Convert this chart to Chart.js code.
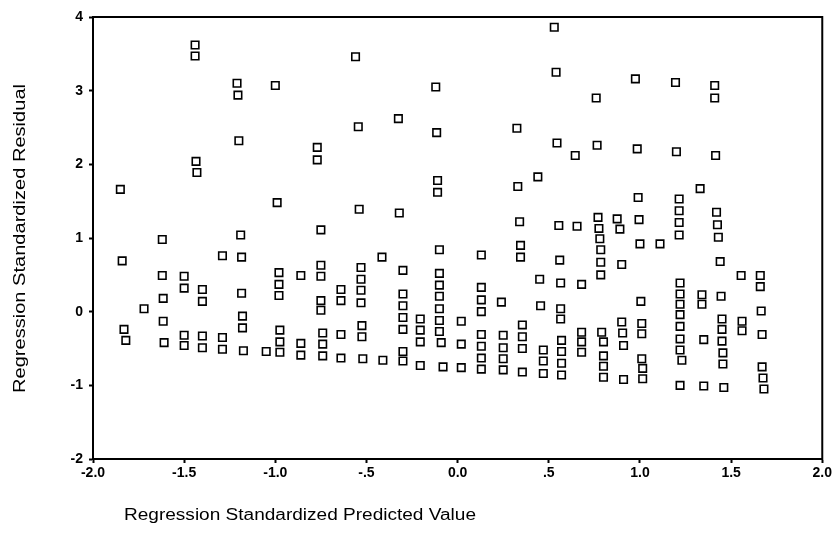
<!DOCTYPE html>
<html>
<head>
<meta charset="utf-8">
<script src="https://cdn.jsdelivr.net/npm/chart.js@4/dist/chart.umd.min.js"></script>
<style>
  html, body { margin: 0; padding: 0; background: #ffffff; }
  #wrap { width: 834px; height: 535px; position: relative; }
</style>
</head>
<body>
<div id="wrap"><canvas id="c" width="834" height="535"></canvas></div>
<script>
const xTitle = "Regression Standardized Predicted Value";
const yTitle = "Regression Standardized Residual";

const xTickValues = [-2, -1.5, -1, -0.5, 0, 0.5, 1, 1.5, 2];
const xTickLabels = ["-2.0", "-1.5", "-1.0", "-.5", "0.0", ".5", "1.0", "1.5", "2.0"];
const yTickValues = [-2, -1, 0, 1, 2, 3, 4];
const yTickLabels = ["-2", "-1", "0", "1", "2", "3", "4"];

const predictedValues = [
  -1.85, -1.84, -1.83, -1.82,
  -1.72,
  -1.62, -1.62, -1.615, -1.615, -1.61,
  -1.50, -1.50, -1.50, -1.50,
  -1.44, -1.44, -1.435, -1.43,
  -1.40, -1.40, -1.40, -1.40,
  -1.29, -1.29, -1.29,
  -1.21, -1.205, -1.20, -1.19, -1.185, -1.185, -1.18, -1.18, -1.175,
  -1.05,
  -1.00, -0.99, -0.98, -0.98, -0.98, -0.975, -0.975, -0.975,
  -0.86, -0.86, -0.86,
  -0.77, -0.77, -0.75, -0.75, -0.75, -0.75, -0.75, -0.74, -0.74, -0.74,
  -0.64, -0.64, -0.64, -0.64,
  -0.56, -0.545, -0.54, -0.53, -0.53, -0.53, -0.53, -0.525, -0.525, -0.52,
  -0.415, -0.41,
  -0.325, -0.32,
  -0.30, -0.30, -0.30, -0.30, -0.30, -0.30, -0.30,
  -0.205, -0.205, -0.205, -0.205,
  -0.12, -0.115, -0.11, -0.11, -0.10, -0.10, -0.10, -0.10, -0.10, -0.10, -0.10, -0.09, -0.08,
  0.02, 0.02, 0.02,
  0.13, 0.13, 0.13, 0.13, 0.13, 0.13, 0.13, 0.13,
  0.24, 0.25, 0.25, 0.25, 0.25,
  0.325, 0.33, 0.34, 0.345, 0.345, 0.355, 0.355, 0.355, 0.355,
  0.44, 0.45, 0.455, 0.47, 0.47, 0.47,
  0.53, 0.54, 0.545, 0.555, 0.56, 0.565, 0.565, 0.565, 0.57, 0.57, 0.57, 0.57,
  0.645, 0.655, 0.68, 0.68, 0.68, 0.68,
  0.76, 0.765, 0.77, 0.775, 0.78, 0.785, 0.785, 0.785, 0.79, 0.80, 0.80, 0.80, 0.80,
  0.875, 0.89, 0.90, 0.90, 0.905, 0.91, 0.91,
  0.975, 0.985, 0.99, 0.995, 1.00, 1.005, 1.01, 1.01, 1.01, 1.015, 1.015,
  1.11,
  1.195, 1.20, 1.215, 1.215, 1.215, 1.215, 1.22, 1.22, 1.22, 1.22, 1.22, 1.22, 1.22, 1.23, 1.22,
  1.33, 1.34, 1.34, 1.35, 1.35,
  1.41, 1.41, 1.415, 1.42, 1.425, 1.43, 1.44, 1.445, 1.45, 1.45, 1.45, 1.455, 1.455, 1.46,
  1.555, 1.56, 1.56,
  1.66, 1.66, 1.665, 1.67, 1.67, 1.675, 1.68
];

const residualValues = [
  1.66, 0.69, -0.24, -0.39,
  0.04,
  0.98, 0.49, 0.18, -0.13, -0.42,
  0.48, 0.32, -0.32, -0.46,
  3.62, 3.47, 2.04, 1.89,
  0.30, 0.14, -0.33, -0.49,
  0.76, -0.35, -0.51,
  3.10, 2.94, 2.32, 1.04, 0.74, 0.25, -0.06, -0.22, -0.53,
  -0.54,
  3.07, 1.48, 0.53, 0.37, 0.22, -0.25, -0.41, -0.55,
  0.49, -0.43, -0.59,
  2.23, 2.06, 1.11, 0.63, 0.48, 0.15, 0.02, -0.29, -0.44, -0.60,
  0.30, 0.15, -0.31, -0.63,
  3.46, 2.51, 1.39, 0.60, 0.44, 0.29, 0.12, -0.19, -0.34, -0.64,
  0.74, -0.66,
  2.62, 1.34,
  0.56, 0.24, 0.08, -0.08, -0.24, -0.54, -0.67,
  -0.10, -0.25, -0.41, -0.73,
  3.05, 2.43, 1.78, 1.62, 0.84, 0.52, 0.36, 0.21, 0.04, -0.12, -0.27, -0.42, -0.75,
  -0.13, -0.44, -0.76,
  0.77, 0.33, 0.16, 0.00, -0.31, -0.47, -0.63, -0.78,
  0.13, -0.32, -0.49, -0.64, -0.79,
  2.49, 1.70, 1.22, 0.90, 0.74, -0.18, -0.34, -0.50, -0.82,
  1.83, 0.44, 0.08, -0.52, -0.67, -0.84,
  3.86, 3.25, 2.29, 1.17, 0.70, 0.39, 0.04, -0.10, -0.39, -0.54, -0.70, -0.86,
  2.12, 1.16, 0.37, -0.28, -0.41, -0.55,
  2.90, 2.26, 1.28, 1.13, 0.99, 0.84, 0.67, 0.50, -0.28, -0.41, -0.60, -0.74, -0.89,
  1.26, 1.12, 0.64, -0.14, -0.29, -0.46, -0.92,
  3.16, 2.21, 1.55, 1.25, 0.92, 0.14, -0.16, -0.30, -0.64, -0.77, -0.91,
  0.92,
  3.11, 2.17, 1.53, 1.37, 1.21, 1.04, 0.39, 0.24, 0.10, -0.04, -0.20, -0.37, -0.52, -0.66, -1.00,
  1.67, 0.23, 0.10, -0.38, -1.01,
  3.07, 2.90, 2.12, 1.35, 1.18, 1.01, 0.68, 0.21, -0.10, -0.24, -0.40, -0.56, -0.71, -1.03,
  0.49, -0.13, -0.26,
  0.49, 0.34, 0.01, -0.31, -0.75, -0.90, -1.05
];

// ---- Build chart ----
const points = predictedValues.map((x, i) => ({ x: x, y: residualValues[i] }));

const FONT = "'Liberation Sans', Arial, sans-serif";

const framePlugin = {
  id: 'frame',
  afterDraw(chart) {
    const { ctx, chartArea: a } = chart;
    ctx.save();
    ctx.strokeStyle = '#000';
    ctx.lineWidth = 2;
    ctx.strokeRect(a.left, a.top, a.right - a.left, a.bottom - a.top);
    ctx.restore();
  }
};

function drawFitted(ctx, text, targetW) {
  const w = ctx.measureText(text).width;
  const s = targetW / w;
  ctx.save();
  ctx.scale(s, 1);
  ctx.fillText(text, 0, 0);
  ctx.restore();
}

const titlePlugin = {
  id: 'titles',
  afterDraw(chart) {
    const ctx = chart.ctx;
    ctx.save();
    ctx.fillStyle = '#000';
    ctx.font = "16px " + FONT;
    ctx.textBaseline = 'middle';
    ctx.textAlign = 'left';
    // x-axis title (left aligned, as in the reference)
    ctx.save();
    ctx.translate(124, 516);
    drawFitted(ctx, xTitle, 352);
    ctx.restore();
    // y-axis title (rotated)
    ctx.save();
    ctx.translate(21, 393);
    ctx.rotate(-Math.PI / 2);
    drawFitted(ctx, yTitle, 309);
    ctx.restore();
    ctx.restore();
  }
};

new Chart(document.getElementById('c'), {
  type: 'scatter',
  data: {
    datasets: [{
      label: 'Residuals',
      data: points,
      pointStyle: 'rect',
      pointRadius: 5.3,
      pointHoverRadius: 5.3,
      pointBorderWidth: 1.6,
      pointBorderColor: '#000',
      pointBackgroundColor: '#fff',
      showLine: false
    }]
  },
  options: {
    responsive: false,
    animation: false,
    devicePixelRatio: 1,
    layout: { autoPadding: false, padding: { left: 0, top: 17, right: 9, bottom: 0 } },
    plugins: { legend: { display: false }, tooltip: { enabled: false } },
    scales: {
      x: {
        type: 'linear',
        min: -2, max: 2,
        afterFit(scale) { scale.height = 76; },
        afterBuildTicks(scale) { scale.ticks = xTickValues.map(v => ({ value: v })); },
        grid: { display: true, drawOnChartArea: false, drawTicks: true, tickLength: 4, tickWidth: 2, tickColor: '#000' },
        border: { display: true, color: '#000', width: 2 },
        ticks: {
          color: '#000',
          font: { family: FONT, size: 14, weight: 'bold' },
          padding: 2,
          maxRotation: 0,
          autoSkip: false,
          callback: (v) => { const i = xTickValues.indexOf(v); return i >= 0 ? xTickLabels[i] : ''; }
        }
      },
      y: {
        type: 'linear',
        min: -2, max: 4,
        afterFit(scale) { scale.width = 93; },
        afterBuildTicks(scale) { scale.ticks = yTickValues.map(v => ({ value: v })); },
        grid: { display: true, drawOnChartArea: false, drawTicks: true, tickLength: 4, tickWidth: 2, tickColor: '#000' },
        border: { display: true, color: '#000', width: 2 },
        ticks: {
          color: '#000',
          font: { family: FONT, size: 14, weight: 'bold' },
          padding: 6,
          autoSkip: false,
          callback: (v) => { const i = yTickValues.indexOf(v); return i >= 0 ? yTickLabels[i] : ''; }
        }
      }
    }
  },
  plugins: [framePlugin, titlePlugin]
});
</script>
</body>
</html>
